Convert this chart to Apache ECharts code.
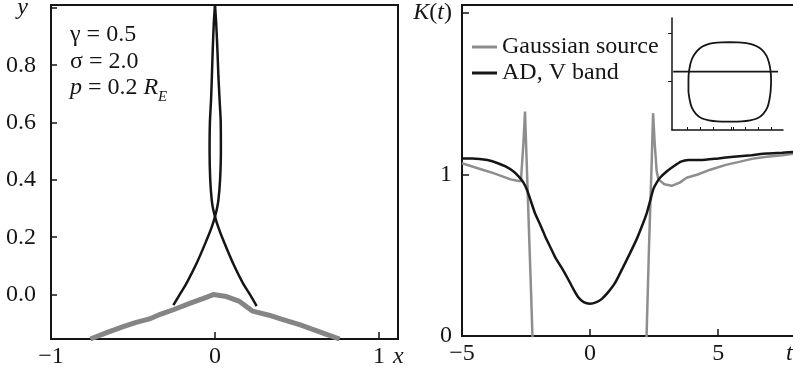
<!DOCTYPE html>
<html><head><meta charset="utf-8">
<script src="https://cdn.jsdelivr.net/npm/echarts@6/dist/echarts.min.js"></script>
<style>html,body{margin:0;padding:0;background:#fff}#c{width:793px;height:373px}</style>
</head><body><div id="c"></div>
<script>
// ---------- Left panel (x, y) ----------
const leftXTicks = [-1, 0, 1];
const leftYTicks = [0, 0.2, 0.4, 0.6, 0.8, 1.0];
// black branch rising from lower left, crossing x=0 and closing at top
const curveAx = [-0.254, -0.21, -0.173, -0.112, -0.051, -0.02, 0.0, 0.012, 0.021, 0.031, 0.036, 0.035, 0.028, 0.021, 0.015, 0.007, 0.0];
const curveAy = [-0.037, 0.005, 0.04, 0.109, 0.19, 0.235, 0.272, 0.30, 0.33, 0.40, 0.50, 0.60, 0.68, 0.76, 0.85, 0.95, 1.01];
// black branch rising from lower right
const curveBx = [0.254, 0.21, 0.17, 0.11, 0.05, 0.02, 0.0, -0.012, -0.02, -0.029, -0.033, -0.031, -0.024, -0.019, -0.014, -0.007, 0.0];
const curveBy = [-0.04, 0.003, 0.04, 0.109, 0.19, 0.235, 0.272, 0.30, 0.33, 0.40, 0.50, 0.60, 0.68, 0.76, 0.85, 0.95, 1.01];
// thick gray curve
const grayLx = [-0.76, -0.66, -0.56, -0.48, -0.40, -0.33, -0.254, -0.15, -0.07, -0.01, 0.07, 0.15, 0.23, 0.33, 0.40, 0.52, 0.60, 0.68, 0.76];
const grayLy = [-0.155, -0.133, -0.112, -0.097, -0.085, -0.068, -0.053, -0.03, -0.013, 0.0, -0.007, -0.024, -0.058, -0.072, -0.085, -0.106, -0.122, -0.139, -0.155];

// ---------- Right panel K(t) ----------
const rightXTicks = [-5, 0, 5];
const rightYTicks = [0, 1, 2];
const tBlack = [-5, -4.6, -4.0, -3.6, -3.3, -3.0, -2.8, -2.6, -2.45, -2.3, -2.15, -1.95, -1.76, -1.55, -1.37, -1.1, -0.85, -0.65, -0.46, -0.25, 0, 0.25, 0.46, 0.7, 0.98, 1.3, 1.55, 1.82, 2.0, 2.21, 2.35, 2.47, 2.6, 2.73, 3.0, 3.25, 3.55, 3.84, 4.3, 5.0, 5.6, 6.3, 6.9, 7.5, 8.0];
const kBlack = [1.10, 1.10, 1.09, 1.07, 1.05, 1.02, 0.99, 0.95, 0.90, 0.83, 0.76, 0.69, 0.62, 0.55, 0.49, 0.42, 0.35, 0.29, 0.24, 0.21, 0.20, 0.21, 0.23, 0.27, 0.33, 0.43, 0.51, 0.60, 0.67, 0.76, 0.84, 0.91, 0.95, 0.98, 1.02, 1.05, 1.08, 1.09, 1.09, 1.10, 1.11, 1.12, 1.13, 1.135, 1.14];
const tGrayA = [-5, -4.6, -4.2, -3.8, -3.45, -3.1, -2.8, -2.7, -2.6, -2.54, -2.48, -2.4, -2.3, -2.22];
const kGrayA = [1.07, 1.05, 1.03, 1.01, 0.99, 0.97, 0.96, 0.96, 1.2, 1.39, 1.1, 0.72, 0.25, -0.15];
const tGrayB = [2.18, 2.3, 2.4, 2.46, 2.52, 2.6, 2.67, 2.9, 3.19, 3.5, 3.77, 4.2, 4.69, 5.3, 5.86, 6.4, 6.9, 7.5, 8.0];
const kGrayB = [-0.15, 0.55, 1.05, 1.38, 1.2, 1.02, 0.97, 0.94, 0.93, 0.95, 0.98, 1.0, 1.03, 1.06, 1.08, 1.10, 1.11, 1.12, 1.13];

// ---------- Inset ----------
const insetXTicks = [-1.04, -0.72, -0.40, 0.03, 0.10, 0.38, 0.70, 1.02];
const insetYTicks = [0, 1.2];
const loopX = [0, 0.3, 0.5, 0.66, 0.79, 0.9, 0.96, 0.995, 1.01, 1.0, 0.97, 0.92, 0.82, 0.68, 0.5, 0.3, 0, -0.3, -0.5, -0.68, -0.82, -0.92, -0.97, -1.0, -1.0, -0.98, -0.92, -0.8, -0.66, -0.5, -0.3, 0];
const loopY = [0.98, 0.97, 0.94, 0.88, 0.79, 0.64, 0.47, 0.28, 0.05, -0.22, -0.45, -0.64, -0.8, -0.91, -0.96, -0.985, -0.99, -0.985, -0.96, -0.91, -0.8, -0.64, -0.45, -0.22, 0.05, 0.3, 0.55, 0.75, 0.87, 0.94, 0.97, 0.98];
const hLineX = [-1.37, 1.18];
const hLineY = [0.25, 0.25];

const zip = (a, b) => a.map((v, i) => [v, b[i]]);
const FONT = 'Liberation Serif';
const FS = 24;
const INK = '#151515';
const GRAY = '#8e8e8e';
const fmtNum = v => (v < 0 ? '\u2212' + Math.abs(v) : String(v));
const it = {fontStyle: 'italic', fontFamily: FONT, fontSize: FS, color: INK};

const chart = echarts.init(document.getElementById('c'));
chart.setOption({
  animation: false,
  backgroundColor: '#fff',
  textStyle: {fontFamily: FONT},
  grid: [
    {left: 51, top: 5, width: 347, height: 334, show: true, borderColor: INK, borderWidth: 2, outerBoundsMode: 'none'},
    {left: 462, top: 5, width: 333, height: 331, show: true, borderColor: INK, borderWidth: 2, outerBoundsMode: 'none'},
    {left: 672, top: 18, width: 111, height: 112, outerBoundsMode: 'none'}
  ],
  xAxis: [
    {gridIndex: 0, type: 'value', min: -1, max: 1.116, splitLine: {show: false}, axisLine: {show: false, onZero: false},
     axisTick: {inside: true, length: 7, customValues: leftXTicks, lineStyle: {color: INK, width: 1.5}},
     axisLabel: {customValues: leftXTicks, formatter: fmtNum, fontSize: FS, color: INK, margin: 6, fontFamily: FONT},
     name: 'x', nameLocation: 'end', nameGap: -5, nameMoveOverlap: false,
     nameTextStyle: {fontStyle: 'italic', fontSize: FS, color: INK, fontFamily: FONT, verticalAlign: 'top', padding: [6, 0, 0, 0]}},
    {gridIndex: 1, type: 'value', min: -5, max: 8, splitLine: {show: false}, axisLine: {show: false, onZero: false},
     axisTick: {inside: true, length: 7, customValues: rightXTicks, lineStyle: {color: INK, width: 1.5}},
     axisLabel: {customValues: rightXTicks, formatter: fmtNum, fontSize: FS, color: INK, margin: 6, fontFamily: FONT},
     name: 't', nameLocation: 'end', nameGap: -9, nameMoveOverlap: false,
     nameTextStyle: {fontStyle: 'italic', fontSize: FS, color: INK, fontFamily: FONT, verticalAlign: 'top', padding: [6, 0, 0, 0]}},
    {gridIndex: 2, type: 'value', min: -1.4, max: 1.3, splitLine: {show: false},
     axisLine: {show: true, onZero: false, lineStyle: {color: INK, width: 1.5}},
     axisTick: {inside: true, length: 3, customValues: insetXTicks, lineStyle: {color: INK, width: 1}},
     axisLabel: {show: false}}
  ],
  yAxis: [
    {gridIndex: 0, type: 'value', min: -0.155, max: 1.01, splitLine: {show: false}, axisLine: {show: false, onZero: false},
     axisTick: {inside: true, length: 6, customValues: leftYTicks, lineStyle: {color: INK, width: 1.5}},
     axisLabel: {customValues: leftYTicks, margin: 15, fontSize: FS, color: INK, fontFamily: FONT,
       formatter: v => (Math.abs(v - 1) < 1e-9 ? '{i|y}' : v.toFixed(1)),
       rich: {i: Object.assign({padding: [0, 8, 0, 0]}, it)}}},
    {gridIndex: 1, type: 'value', min: 0, max: 2.05, splitLine: {show: false}, axisLine: {show: false, onZero: false},
     axisTick: {inside: true, length: 7, customValues: rightYTicks, lineStyle: {color: INK, width: 1.5}},
     axisLabel: {customValues: rightYTicks, margin: 10, fontSize: FS, color: INK, fontFamily: FONT,
       formatter: v => (v === 2 ? '{i|K}{n|(}{i|t}{n|)}' : String(v)),
       rich: {i: it, n: {fontFamily: FONT, fontSize: FS, color: INK}}}},
    {gridIndex: 2, type: 'value', min: -1.2, max: 1.58, splitLine: {show: false},
     axisLine: {show: true, onZero: false, lineStyle: {color: INK, width: 1.5}},
     axisTick: {inside: false, length: 4, customValues: insetYTicks, lineStyle: {color: INK, width: 1}},
     axisLabel: {show: false}}
  ],
  legend: {
    data: ['Gaussian source', 'AD, V band'],
    orient: 'vertical', left: 472, top: 35, padding: 0, itemGap: 2,
    itemWidth: 25, itemHeight: 3, icon: 'rect',
    textStyle: {fontSize: FS, color: INK, fontFamily: FONT}
  },
  graphic: [
    {type: 'text', x: 70, y: 35, style: {text: 'γ = 0.5', fontSize: FS, fontFamily: FONT, fill: INK, verticalAlign: 'middle'}},
    {type: 'text', x: 70, y: 62, style: {text: 'σ = 2.0', fontSize: FS, fontFamily: FONT, fill: INK, verticalAlign: 'middle'}},
    {type: 'text', x: 70, y: 88, style: {text: '{i|p} = 0.2 {i|R}', fontSize: FS, fontFamily: FONT, fill: INK, verticalAlign: 'middle',
      rich: {i: {fontStyle: 'italic', fontSize: FS, fontFamily: FONT, fill: INK}}}},
    {type: 'text', x: 158, y: 97, style: {text: 'E', fontSize: 15, fontStyle: 'italic', fontFamily: FONT, fill: INK, verticalAlign: 'middle'}}
  ],
  series: [
    {type: 'line', xAxisIndex: 0, yAxisIndex: 0, data: zip(grayLx, grayLy), showSymbol: false, lineStyle: {color: '#858585', width: 5}, z: 2},
    {type: 'line', xAxisIndex: 0, yAxisIndex: 0, data: zip(curveAx, curveAy), showSymbol: false, smooth: 0.3, lineStyle: {color: INK, width: 2.5}, z: 3},
    {type: 'line', xAxisIndex: 0, yAxisIndex: 0, data: zip(curveBx, curveBy), showSymbol: false, smooth: 0.3, lineStyle: {color: INK, width: 2.5}, z: 3},
    {name: 'Gaussian source', type: 'line', xAxisIndex: 1, yAxisIndex: 1, data: zip(tGrayA, kGrayA), showSymbol: false, clip: true, color: GRAY, lineStyle: {color: GRAY, width: 2.5}, z: 2},
    {name: 'Gaussian source', type: 'line', xAxisIndex: 1, yAxisIndex: 1, data: zip(tGrayB, kGrayB), showSymbol: false, clip: true, color: GRAY, lineStyle: {color: GRAY, width: 2.5}, z: 2},
    {name: 'AD, V band', type: 'line', xAxisIndex: 1, yAxisIndex: 1, data: zip(tBlack, kBlack), showSymbol: false, smooth: 0.2, clip: true, color: INK, lineStyle: {color: INK, width: 2.5}, z: 3},
    {type: 'line', xAxisIndex: 2, yAxisIndex: 2, data: zip(loopX, loopY), showSymbol: false, smooth: 0.15, lineStyle: {color: INK, width: 1.8}, z: 3},
    {type: 'line', xAxisIndex: 2, yAxisIndex: 2, data: zip(hLineX, hLineY), showSymbol: false, lineStyle: {color: INK, width: 1.8}, z: 3}
  ]
});
</script></body></html>
